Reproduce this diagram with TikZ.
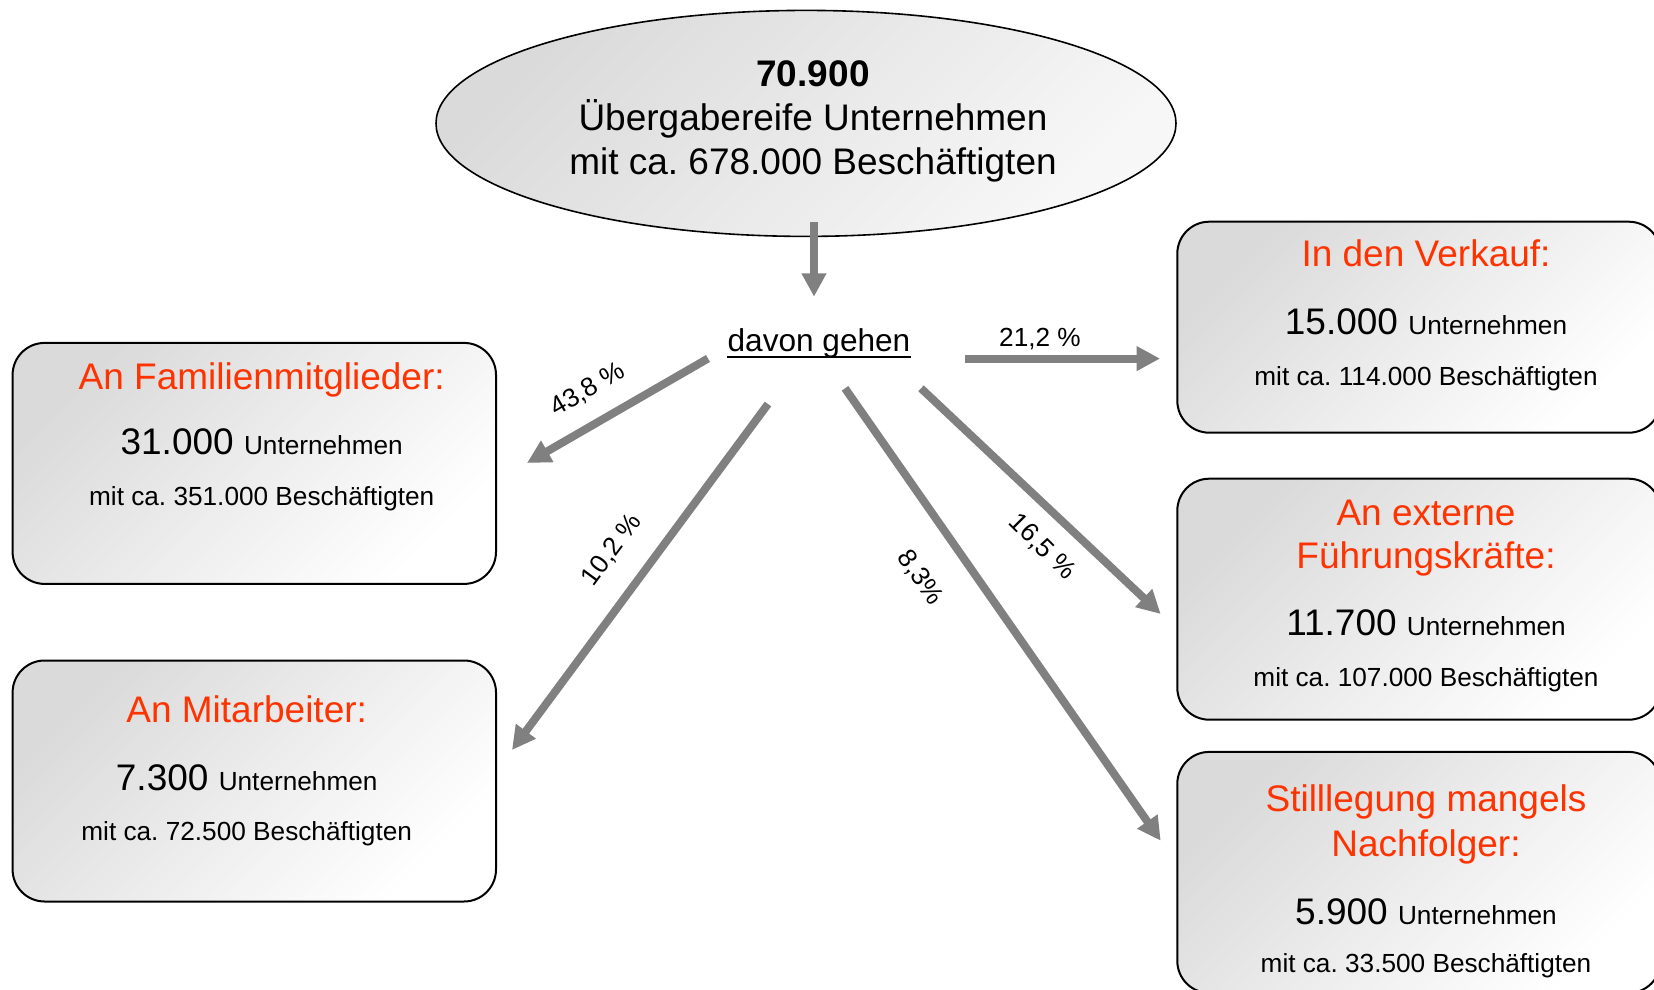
\documentclass[tikz,border=0pt]{standalone}
\usepackage{fontspec}
\setmainfont{Liberation Sans}
\usetikzlibrary{shapes.geometric,arrows.meta}
\frenchspacing
\definecolor{titelrot}{RGB}{255,51,0}
\definecolor{pfeilgrau}{RGB}{128,128,128}
\definecolor{verlauf}{RGB}{218,218,218}
\newcommand{\fsGross}{\fontsize{18.5}{22.2}\selectfont}
\newcommand{\fsKlein}{\fontsize{13.1}{15.7}\selectfont}
\newcommand{\fsMittel}{\fontsize{15.8}{19}\selectfont}
\tikzstyle{kasten} = [draw, line width=1pt, rectangle, rounded corners=16pt, minimum width=241.7pt, minimum height=120.5pt, inner sep=0pt, top color=verlauf, bottom color=white, shading angle=45]
\tikzstyle{oval} = [draw, line width=0.8pt, ellipse, minimum width=370pt, minimum height=113pt, inner sep=0pt, top color=verlauf, bottom color=white!97!black, shading angle=45]
\tikzstyle{titel} = [text=titelrot, anchor=base, inner sep=0pt, font=\fsGross]
\tikzstyle{zeile} = [anchor=base, inner sep=0pt, font=\fsKlein]
\tikzstyle{prozent} = [inner sep=0pt, font=\fsKlein]
\tikzstyle{pfeil} = [draw=pfeilgrau, line width=4pt, -{Triangle[width=11.7pt,length=11.7pt]}]

\begin{document}
\begin{tikzpicture}[x=0.5pt, y=-0.5pt]
        \useasboundingbox (0,0) rectangle (1654,990);
        % Ausgangsmenge
        \node[oval] (gesamt) at (806,123.4) {};
        \node[zeile, font=\fsGross\bfseries] (gesamtZahl) at (813,87) {70.900};
        \node[zeile, font=\fsGross] (gesamtText) at (813,131) {Übergabereife Unternehmen};
        \node[zeile, font=\fsGross] (gesamtBesch) at (813,175) {mit ca. 678.000 Beschäftigten};
        \node[zeile, font=\fsMittel] (davon) at (819,351) {davon gehen};
        \draw[line width=1pt] ([yshift=-3pt]davon.base west) -- ([yshift=-3pt]davon.base east);

        % linke Seite
        \node[kasten] (familie) at (254.3,463.4) {};
        \node[titel] (familieT) at (261.7,389.3) {An Familienmitglieder:};
        \node[zeile] (familieN) at (261.7,454) {{\fsGross 31.000 }Unternehmen};
        \node[zeile] (familieB) at (261.7,505) {mit ca. 351.000 Beschäftigten};

        \node[kasten] (mitarbeiter) at (254.3,781) {};
        \node[titel] (mitarbeiterT) at (246.7,722.3) {An Mitarbeiter:};
        \node[zeile] (mitarbeiterN) at (246.7,790) {{\fsGross 7.300 }Unternehmen};
        \node[zeile] (mitarbeiterB) at (246.7,840) {mit ca. 72.500 Beschäftigten};

        % rechte Seite
        \node[kasten, minimum height=105.5pt] (verkauf) at (1419,327.2) {};
        \node[titel] (verkaufT) at (1426,266.7) {In den Verkauf:};
        \node[zeile] (verkaufN) at (1426,334) {{\fsGross 15.000 }Unternehmen};
        \node[zeile] (verkaufB) at (1426,385) {mit ca. 114.000 Beschäftigten};

        \node[kasten] (extern) at (1419,599.2) {};
        \node[titel] (externT) at (1426,525) {An externe};
        \node[titel] (externT2) at (1426,568.3) {Führungskräfte:};
        \node[zeile] (externN) at (1426,635.7) {{\fsGross 11.700 }Unternehmen};
        \node[zeile] (externB) at (1426,686.7) {mit ca. 107.000 Beschäftigten};

        \node[kasten] (stilllegung) at (1419,872.4) {};
        \node[titel] (stilllegungT) at (1426,811.7) {Stilllegung mangels};
        \node[titel] (stilllegungT2) at (1426,856.7) {Nachfolger:};
        \node[zeile] (stilllegungN) at (1426,924) {{\fsGross 5.900 }Unternehmen};
        \node[zeile] (stilllegungB) at (1426,972.7) {mit ca. 33.500 Beschäftigten};

        % Pfeile
        \coordinate (abS) at (814,221.7);
        \coordinate (abE) at (814,296.7);
        \coordinate (famS) at (708,358.5);
        \coordinate (famE) at (527,463);
        \coordinate (mitS) at (768,404);
        \coordinate (mitE) at (512,750);
        \coordinate (verS) at (965,358.6);
        \coordinate (verE) at (1160,358.6);
        \coordinate (extS) at (921,388.3);
        \coordinate (extE) at (1160.7,614);
        \coordinate (stiS) at (845,388.3);
        \coordinate (stiE) at (1160.7,840.7);
        \draw[pfeil] (abS) -- (abE);
        \draw[pfeil] (famS) -- (famE);
        \draw[pfeil] (mitS) -- (mitE);
        \draw[pfeil] (verS) -- (verE);
        \draw[pfeil] (extS) -- (extE);
        \draw[pfeil] (stiS) -- (stiE);

        \node[prozent, rotate=30] (pFam) at (588,390) {43,8 \%};
        \node[prozent, anchor=base] (pVer) at (1040,346) {21,2 \%};
        \node[prozent, rotate=53.5] (pMit) at (612,550) {10,2 \%};
        \node[prozent, rotate=-55] (pSti) at (920,578) {8,3\%};
        \node[prozent, rotate=-45] (pExt) at (1042,547) {16,5 \%};
    \end{tikzpicture}
\end{document}
